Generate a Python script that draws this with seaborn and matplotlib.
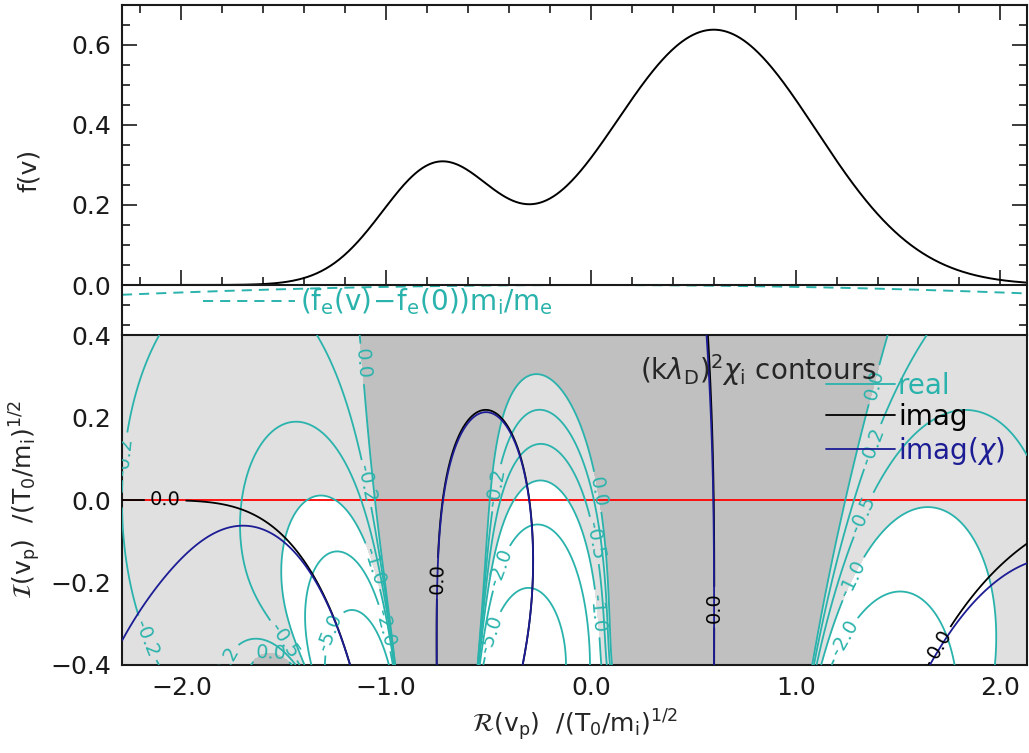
import numpy as np
import pandas as pd
import matplotlib
matplotlib.use("Agg")
import matplotlib.pyplot as plt
from matplotlib.lines import Line2D
from matplotlib.ticker import MultipleLocator, FuncFormatter
import seaborn as sns

sns.set_theme(style="ticks")
plt.rcParams["font.family"] = ["DejaVu Sans"]
plt.rcParams["mathtext.fontset"] = "dejavusans"

# ion distribution: two drifting Maxwellians (velocity in (T0/mi)^1/2)
ion_density = [0.2, 0.8]
ion_drift = [-0.75, 0.6]
ion_temp = [0.075, 0.25]
# electrons: Maxwellian, no drift
mass_ratio = 1836.0
electron_temp = 1.0

real_levels = [-5.0, -2.0, -1.0, -0.5, -0.2, 0.0]
imag_levels = [0.0]
shade_levels = [-1.0, 0.0]
shade_colors = ["white", "#e0e0e0", "#c0c0c0"]

xlim = (-2.29, 2.13)
ylim_top = (-0.125, 0.7)
ylim_bot = (-0.4, 0.4)

cyan = "#2ab3ac"
navy = "#1c1c95"
fs = 18


def f_ion(v):
    out = 0.0
    for n, u, T in zip(ion_density, ion_drift, ion_temp):
        out = out + n / np.sqrt(2 * np.pi * T) * np.exp(-(v - u) ** 2 / (2 * T))
    return out


def df_ion(v):
    out = 0.0
    for n, u, T in zip(ion_density, ion_drift, ion_temp):
        out = out - (v - u) / T * n / np.sqrt(2 * np.pi * T) * np.exp(-(v - u) ** 2 / (2 * T))
    return out


vte = np.sqrt(mass_ratio * electron_temp)


def f_elec_term(v):
    fe = lambda x: 1 / (np.sqrt(2 * np.pi) * vte) * np.exp(-x ** 2 / (2 * vte ** 2))
    return (fe(v) - fe(0.0)) * mass_ratio


# (k lambda_D)^2 chi_i = -int f'(v)/(v - vp) dv, Landau contour below the pole
t = np.linspace(-4.5, 5.5, 3400)
cshift = 0.7
vc = t - 1j * cshift
wq = df_ion(vc) * (t[1] - t[0])

vr = np.linspace(xlim[0], xlim[1], 420)
vi = np.linspace(ylim_bot[0], ylim_bot[1], 161)
VR, VI = np.meshgrid(vr, vi)
VP = (VR + 1j * VI).ravel()
chi_i = np.empty(VP.shape, dtype=complex)
for s in range(0, VP.size, 1500):
    p = VP[s:s + 1500]
    chi_i[s:s + 1500] = -(wq[None, :] / (vc[None, :] - p[:, None])).sum(axis=1)
chi_i = chi_i.reshape(VR.shape)

zeta = (VR + 1j * VI) / (np.sqrt(2) * vte)
chi_e = (1 / electron_temp) * (1 + 1j * np.sqrt(np.pi) * zeta * np.exp(-zeta ** 2)
                               - 2 * zeta ** 2 + (4 / 3) * zeta ** 4)
chi_tot = chi_i + chi_e

fig = plt.figure(figsize=(10.29, 7.53), dpi=100)
ax1 = fig.add_axes([122 / 1029, 1 - 335 / 753, 905 / 1029, 330 / 753])
ax2 = fig.add_axes([122 / 1029, 1 - 665 / 753, 905 / 1029, 330 / 753])

v = np.linspace(xlim[0], xlim[1], 800)
df_top = pd.DataFrame({"v": v, "f": f_ion(v), "fe": f_elec_term(v)})
sns.lineplot(data=df_top, x="v", y="f", ax=ax1, color="black", lw=1.4,
             estimator=None, sort=False)
sns.lineplot(data=df_top, x="v", y="fe", ax=ax1, color=cyan, lw=1.4,
             estimator=None, sort=False, dashes=False)
ax1.lines[-1].set_dashes((5.2, 3.6))
ax1.set_xlim(*xlim)
ax1.set_ylim(*ylim_top)
ax1.spines["bottom"].set_position(("data", 0))
ax1.set_xlabel("")
ax1.set_ylabel("f(v)", fontsize=fs, labelpad=22)
ax1.tick_params(axis="x", labelbottom=False)
ax1.yaxis.set_major_locator(MultipleLocator(0.2))
ax1.yaxis.set_minor_locator(MultipleLocator(0.05))
leg1 = ax1.legend(handles=[Line2D([], [], color=cyan, lw=1.4, dashes=(5.2, 3.6))],
                  labels=[r"$\mathrm{(f_e(v)\!-\!f_e(0))m_i/m_e}$"],
                  loc="center left", bbox_to_anchor=(0.062, 0.1), frameon=False,
                  fontsize=20, handlelength=3.3, handletextpad=0.2)
leg1.get_texts()[0].set_color(cyan)

# bottom panel
ax2.contourf(VR, VI, chi_i.real, levels=[-1e9] + shade_levels + [1e9],
             colors=shade_colors)
ax2.axhline(0, color="red", lw=1.3, zorder=2)
cs_r = ax2.contour(VR, VI, chi_i.real, levels=real_levels, colors=cyan,
                   linewidths=1.3, linestyles="solid", zorder=3)
ax2.clabel(cs_r, fmt="%.1f", fontsize=14, colors=cyan, inline=True)
cs_i = ax2.contour(VR, VI, chi_i.imag, levels=imag_levels, colors="black",
                   linewidths=1.3, zorder=4)
ax2.clabel(cs_i, fmt="%.1f", fontsize=14, colors="black", inline=True)
ax2.contour(VR, VI, chi_tot.imag, levels=imag_levels, colors=navy,
            linewidths=1.3, zorder=5)
ax2.set_xlim(*xlim)
ax2.set_ylim(*ylim_bot)
ax2.yaxis.set_major_locator(MultipleLocator(0.2))
ax2.yaxis.set_minor_locator(MultipleLocator(0.05))
ax2.set_xlabel(r"$\mathcal{R}(\mathrm{v_p})\ \ /(\mathrm{T_0/m_i})^{1/2}$",
               fontsize=fs, labelpad=5)
ax2.set_ylabel(r"$\mathcal{I}(\mathrm{v_p})\ \ /(\mathrm{T_0/m_i})^{1/2}$",
               fontsize=fs, labelpad=5)
ax2.text(0.572, 0.894, r"$(\mathrm{k}\lambda_\mathrm{D})^2\chi_\mathrm{i}$ contours",
         transform=ax2.transAxes, fontsize=20, va="center", ha="left", zorder=6)
handles = [Line2D([], [], color=cyan, lw=1.3), Line2D([], [], color="black", lw=1.3),
           Line2D([], [], color=navy, lw=1.3)]
leg2 = ax2.legend(handles=handles, labels=["real", "imag", r"imag($\chi$)"],
                  loc="upper left", bbox_to_anchor=(0.75, 0.965), frameon=False,
                  fontsize=20, handlelength=2.5, handletextpad=0.1, labelspacing=0.13)
for txt, col in zip(leg2.get_texts(), [cyan, "black", navy]):
    txt.set_color(col)
leg2.set_zorder(6)

minus_fmt = FuncFormatter(lambda x, pos: f"{x:.1f}".replace("-", "\u2212"))
for ax in (ax1, ax2):
    ax.xaxis.set_major_locator(MultipleLocator(1.0))
    ax.xaxis.set_minor_locator(MultipleLocator(0.2))
    ax.xaxis.set_major_formatter(minus_fmt)
    ax.yaxis.set_major_formatter(minus_fmt)
    ax.tick_params(which="both", direction="in", top=True, right=True,
                   labelsize=fs, width=1.2, colors="#1a1a1a", pad=8)
    ax.tick_params(which="major", length=11)
    ax.tick_params(which="minor", length=6)
    for sp in ax.spines.values():
        sp.set_linewidth(1.5)
        sp.set_color("#1a1a1a")
ax1.tick_params(axis="x", which="both", top=True, bottom=True)

fig.savefig("out.png", dpi=100)
